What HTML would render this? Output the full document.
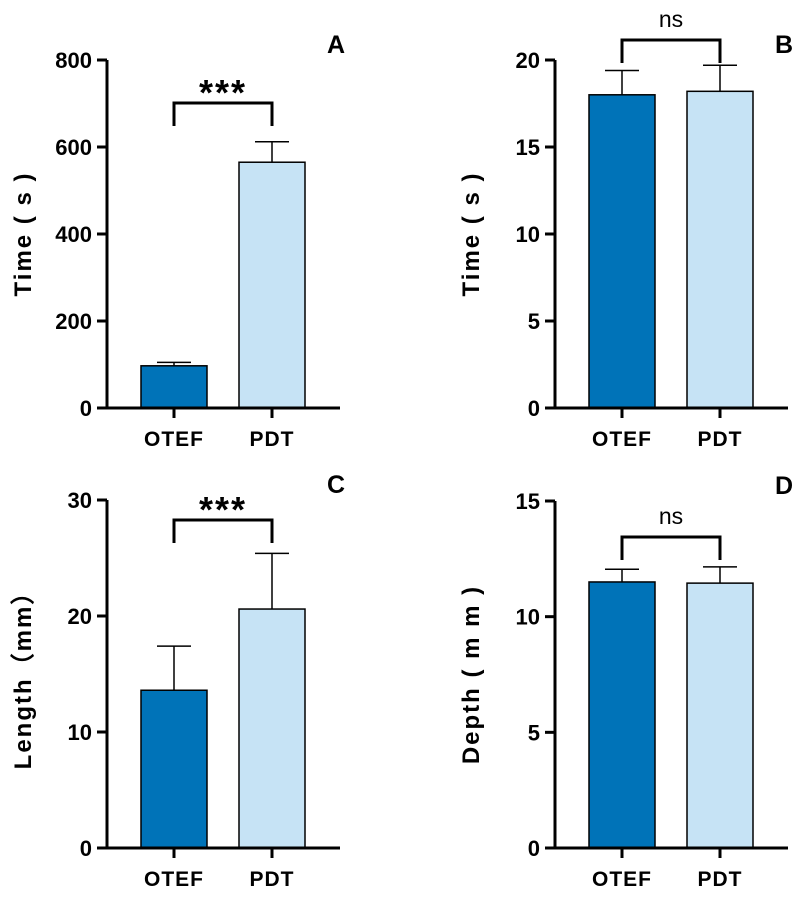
<!DOCTYPE html>
<html><head><meta charset="utf-8"><style>
body{margin:0;background:#fff;}
svg text{font-family:"Liberation Sans",Arial,sans-serif;font-weight:bold;fill:#000;}
</style></head><body>
<svg id="c" width="796" height="893" viewBox="0 0 796 893" xmlns="http://www.w3.org/2000/svg"></svg>
<script>
const categories=["OTEF","PDT"];
const meansA=[97,565], errA=[8,47], ticksA=[0,200,400,600,800];
const meansB=[18,18.2], errB=[1.4,1.5], ticksB=[0,5,10,15,20];
const meansC=[13.6,20.6], errC=[3.8,4.8], ticksC=[0,10,20,30];
const meansD=[11.5,11.45], errD=[0.55,0.7], ticksD=[0,5,10,15];
const titles=["Time ( s )","Time ( s )","Length（mm）","Depth ( m m )"];
const letters=["A","B","C","D"];
const sigs=["***","ns","***","ns"];
const colors=["#0073b8","#c6e3f5"];
const svg=document.getElementById('c');
const NS="http://www.w3.org/2000/svg";
function mk(tag,attrs,parent){const e=document.createElementNS(NS,tag);for(const k in attrs)e.setAttribute(k,attrs[k]);(parent||svg).appendChild(e);return e;}
const panels=[
 {ax:107,top:60,bot:408,means:meansA,err:errA,ticks:ticksA,brY:103},
 {ax:555,top:60,bot:408,means:meansB,err:errB,ticks:ticksB,brY:40},
 {ax:107,top:500,bot:848,means:meansC,err:errC,ticks:ticksC,brY:520},
 {ax:555,top:501,bot:848,means:meansD,err:errD,ticks:ticksD,brY:537}];
panels.forEach((p,i)=>{
 const g=mk('g',{});
 
 
 const max=p.ticks[p.ticks.length-1];
 const y=v=>p.bot-(v/max)*(p.bot-p.top);
 const barX=[p.ax+34,p.ax+132], bw=66;
 p.means.forEach((m,j)=>{
  const yt=y(m), ye=y(m+p.err[j]), cx=barX[j]+bw/2;
  const el=mk('line',{x1:cx,x2:cx,y1:yt,y2:ye,stroke:'#000','stroke-width':1.5},g);
  
  
  const cap=mk('line',{x1:cx-17,x2:cx+17,y1:ye,y2:ye,stroke:'#000','stroke-width':1.5},g);
  
  
  const r=mk('rect',{x:barX[j],y:yt,width:bw,height:p.bot-yt,fill:colors[j],stroke:'#000','stroke-width':1.5},g);
  
  
  const tk=mk('line',{x1:cx,x2:cx,y1:p.bot,y2:p.bot+10,stroke:'#000','stroke-width':3},g);
  
  
  const t=mk('text',{x:cx,y:p.bot+38,'text-anchor':'middle','font-size':21,'letter-spacing':1},g);
  t.textContent=categories[j];
  
  
 });
 const ya=mk('line',{x1:p.ax,x2:p.ax,y1:p.top,y2:p.bot+1.5,stroke:'#000','stroke-width':3},g);
 
 
 const xa=mk('line',{x1:p.ax-1.5,x2:p.ax+233,y1:p.bot,y2:p.bot,stroke:'#000','stroke-width':3},g);
 
 
 p.ticks.forEach(v=>{
  const tl=mk('line',{x1:p.ax-10,x2:p.ax,y1:y(v),y2:y(v),stroke:'#000','stroke-width':3},g);
  
  
  const t=mk('text',{x:p.ax-15,y:y(v)+8,'text-anchor':'end','font-size':22},g);
  t.textContent=v;
  
  
 });
 const yt=mk('text',{x:0,y:0,'text-anchor':'middle','font-size':24,'letter-spacing':2,transform:`translate(${p.ax-76},${(p.top+p.bot)/2}) rotate(-90)`},g);
 yt.setAttribute('font-family','"Liberation Sans","Noto Sans CJK SC",sans-serif');
 yt.textContent=titles[i];
 
 
 const c1=barX[0]+bw/2, c2=barX[1]+bw/2;
 const br=mk('path',{d:`M${c1},${p.brY+23}V${p.brY}H${c2}V${p.brY+23}`,fill:'none',stroke:'#000','stroke-width':3},g);
 
 
 const isNs=sigs[i]==='ns';
 const st=mk('text',{x:(c1+c2)/2,y:isNs?p.brY-13:p.brY+2,'text-anchor':'middle','font-size':isNs?23:36,'letter-spacing':isNs?0:2},g);
 st.style.fontWeight=isNs?'normal':'bold';
 st.textContent=sigs[i];
 
 
 const lt=mk('text',{x:p.ax+238,y:p.top-7,'text-anchor':'end','font-size':25,'font-family':'"DejaVu Sans Condensed","Liberation Sans",sans-serif',transform:`translate(${p.ax+238},0) scale(0.85,1.1) translate(${-(p.ax+238)},0)`},g);
 lt.setAttribute('transform','');
 lt.textContent=letters[i];
 
 
});
</script>
</body></html>
